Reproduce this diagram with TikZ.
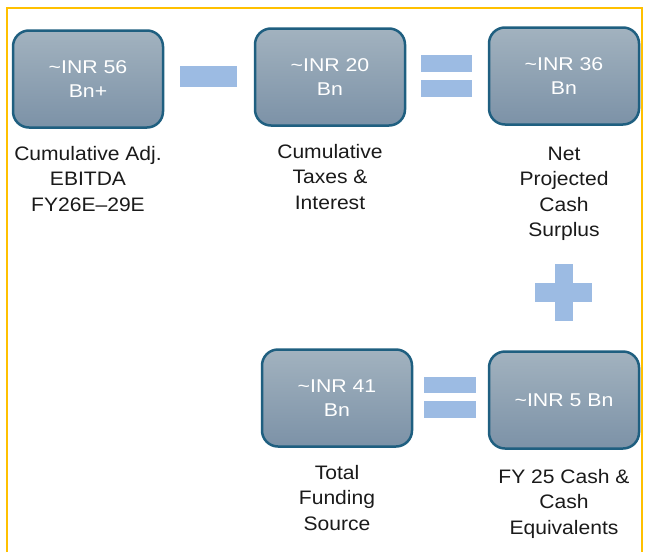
\documentclass[tikz,border=0pt]{standalone}
\usepackage{fontspec}
\setmainfont[FakeStretch=1.08]{Liberation Sans}
\newfontfamily\amountfont[FakeStretch=1.15]{Liberation Sans}
\usepackage{xcolor}
\definecolor{frame}{HTML}{FFC000}
\definecolor{boxline}{HTML}{1F5F80}
\definecolor{boxtop}{HTML}{A2B2BF}
\definecolor{boxbottom}{HTML}{7C92A7}
\definecolor{opfill}{HTML}{9CBBE3}
\definecolor{labeltext}{HTML}{1A1A1A}
\usepackage{tikz}
\usetikzlibrary{positioning}

\begin{document}
\begin{tikzpicture}[
            x=1pt, y=-1pt,
            node distance=17pt,
            align=center,
            amount/.style={rectangle, draw=boxline, line width=2.5pt, rounded corners=16pt, top color=boxtop, bottom color=boxbottom, minimum width=150pt, minimum height=97pt, text=white, font=\amountfont\fontsize{18.5}{24}\selectfont},
            caption/.style={inner sep=0pt, text=labeltext, font=\fontsize{19.5}{25.5}\selectfont},
            opbar/.style={rectangle, fill=opfill, draw=none, inner sep=0pt}
        ]
            \useasboundingbox (0,0) rectangle (647,552);

            % Outer frame (open at the bottom)
            \draw[frame, line width=2pt] (7,552) -- (7,8) -- (642,8) -- (642,552);

            % Amount boxes
            \node[amount] (ebitda) at (88,79) {\textasciitilde INR 56\\Bn+};
            \node[amount] (taxes) at (330,77) {\textasciitilde INR 20\\Bn};
            \node[amount] (surplus) at (564,76) {\textasciitilde INR 36\\Bn};
            \node[amount] (funding) at (337,398) {\textasciitilde INR 41\\Bn};
            \node[amount] (cash) at (564,400) {\textasciitilde INR 5 Bn};

            % Captions
            \node[caption, below=of ebitda] (ebitdalbl) {Cumulative Adj.\\EBITDA\\FY26E–29E};
            \node[caption, below=of taxes] (taxeslbl) {Cumulative\\Taxes \&\\Interest};
            \node[caption, below=21pt of surplus] (surpluslbl) {Net\\Projected\\Cash\\Surplus};
            \node[caption, below=of funding] (fundinglbl) {Total\\Funding\\Source};
            \node[caption, below=19pt of cash] (cashlbl) {FY 25 Cash \&\\Cash\\Equivalents};

            % Operators
            \node[opbar, minimum width=57pt, minimum height=21pt] (minus) at (208.5,76.5) {};
            \node[opbar, minimum width=51pt, minimum height=17pt] (eqtop) at (446.5,63.5) {};
            \node[opbar, minimum width=51pt, minimum height=17pt] (eqbot) at (446.5,88) {};
            \node[opbar, minimum width=18pt, minimum height=57pt] (plusv) at (564,292.5) {};
            \node[opbar, minimum width=57pt, minimum height=19pt] (plush) at (563.5,292.5) {};
            \node[opbar, minimum width=52pt, minimum height=16pt] (eq2top) at (450,385) {};
            \node[opbar, minimum width=52pt, minimum height=17pt] (eq2bot) at (450,409.5) {};
        \end{tikzpicture}
\end{document}
